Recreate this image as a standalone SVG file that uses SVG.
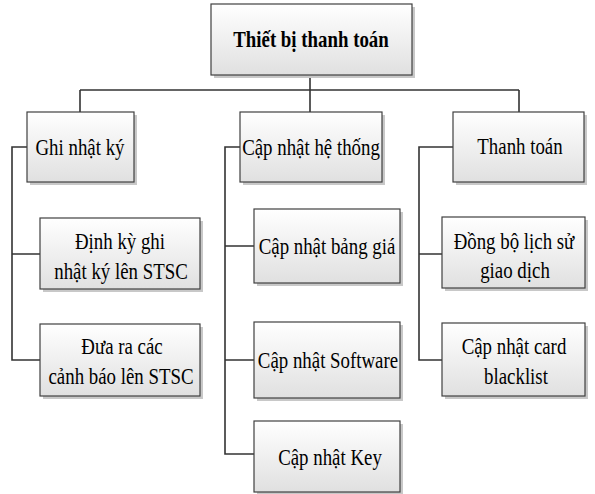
<svg xmlns="http://www.w3.org/2000/svg" width="595" height="494" viewBox="0 0 595 494">
<defs>
<linearGradient id="g" x1="0" y1="0" x2="0" y2="1">
<stop offset="0" stop-color="#ffffff"/>
<stop offset="1" stop-color="#e0e0e0"/>
</linearGradient>
<style>
.box{fill:url(#g);stroke:#404040;stroke-width:1.2}
.sh{fill:#c8c8c8}
.t{font-family:'Liberation Serif',serif;font-size:23px;fill:#000;text-anchor:middle}
.b{font-weight:bold}
.c{fill:none;stroke:#333;stroke-width:1.6}
</style>
</defs>
<rect width="595" height="494" fill="#ffffff"/>
<g id="connectors">
<path class="c" d="M310 77V90M80 90H519M80 90V112M310 90V112M519 90V112"/>
<path class="c" d="M27 147H12V360H40M12 254H40"/>
<path class="c" d="M240 147H225V454H254M225 246H254M225 360H254"/>
<path class="c" d="M453 147H419V360H442M419 254H442"/>
</g>
<g id="root">
<rect class="sh" x="214" y="7" width="201" height="71"/>
<rect class="box" x="211" y="4" width="201" height="71"/>
<text class="t b" transform="translate(311 47) scale(0.82 1)">Thiết bị thanh toán</text>
</g>
<g id="ghi-nhat-ky">
<rect class="sh" x="30" y="115" width="107" height="70"/>
<rect class="box" x="27" y="112" width="107" height="70"/>
<text class="t" transform="translate(80 155) scale(0.82 1)">Ghi nhật ký</text>
</g>
<g id="dinh-ky">
<rect class="sh" x="43" y="221" width="160" height="71"/>
<rect class="box" x="40" y="218" width="160" height="71"/>
<text class="t" transform="translate(120 249) scale(0.82 1)">Định kỳ ghi</text>
<text class="t" transform="translate(121 279) scale(0.82 1)">nhật ký lên STSC</text>
</g>
<g id="dua-ra">
<rect class="sh" x="43" y="327" width="160" height="72"/>
<rect class="box" x="40" y="324" width="160" height="72"/>
<text class="t" transform="translate(122 354) scale(0.82 1)">Đưa ra các</text>
<text class="t" transform="translate(121 384) scale(0.82 1)">cảnh báo lên STSC</text>
</g>
<g id="cap-nhat-he-thong">
<rect class="sh" x="243" y="115" width="142" height="70"/>
<rect class="box" x="240" y="112" width="142" height="70"/>
<text class="t" transform="translate(311 155) scale(0.82 1)">Cập nhật hệ thống</text>
</g>
<g id="bang-gia">
<rect class="sh" x="257" y="212" width="146" height="74"/>
<rect class="box" x="254" y="209" width="146" height="74"/>
<text class="t" transform="translate(327 254) scale(0.82 1)">Cập nhật bảng giá</text>
</g>
<g id="software">
<rect class="sh" x="257" y="325" width="146" height="76"/>
<rect class="box" x="254" y="322" width="146" height="76"/>
<text class="t" transform="translate(328 368) scale(0.82 1)">Cập nhật Software</text>
</g>
<g id="key">
<rect class="sh" x="257" y="424" width="146" height="71"/>
<rect class="box" x="254" y="421" width="146" height="71"/>
<text class="t" transform="translate(330 465) scale(0.82 1)">Cập nhật Key</text>
</g>
<g id="thanh-toan">
<rect class="sh" x="456" y="115" width="131" height="70"/>
<rect class="box" x="453" y="112" width="131" height="70"/>
<text class="t" transform="translate(520 154) scale(0.82 1)">Thanh toán</text>
</g>
<g id="dong-bo">
<rect class="sh" x="445" y="220" width="143" height="71"/>
<rect class="box" x="442" y="217" width="143" height="71"/>
<text class="t" transform="translate(514 249) scale(0.82 1)">Đồng bộ lịch sử</text>
<text class="t" transform="translate(515 278) scale(0.82 1)">giao dịch</text>
</g>
<g id="card-blacklist">
<rect class="sh" x="445" y="326" width="143" height="73"/>
<rect class="box" x="442" y="323" width="143" height="73"/>
<text class="t" transform="translate(514 354) scale(0.82 1)">Cập nhật card</text>
<text class="t" transform="translate(516 384) scale(0.82 1)">blacklist</text>
</g>
</svg>
